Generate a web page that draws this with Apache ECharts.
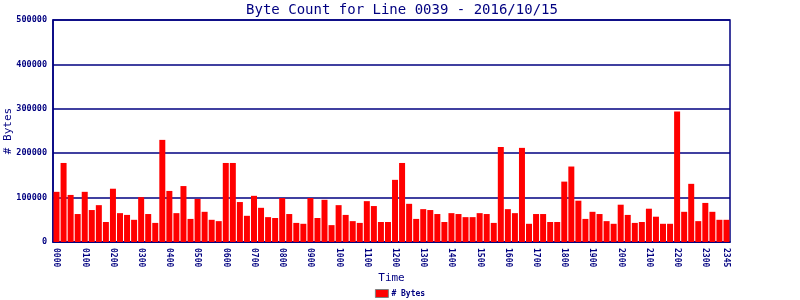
<!DOCTYPE html>
<html>
<head>
<meta charset="utf-8">
<script src="https://cdn.jsdelivr.net/npm/echarts@6/dist/echarts.min.js"></script>
<style>html,body{margin:0;padding:0;background:#fff}#c{width:800px;height:300px}</style>
</head>
<body>
<div id="c"></div>
<script>
var titleText = 'Byte Count for Line 0039 - 2016/10/15';
var seriesName = '# Bytes';
var categories = [
 '0000','0015','0030','0045','0100','0115','0130','0145',
 '0200','0215','0230','0245','0300','0315','0330','0345',
 '0400','0415','0430','0445','0500','0515','0530','0545',
 '0600','0615','0630','0645','0700','0715','0730','0745',
 '0800','0815','0830','0845','0900','0915','0930','0945',
 '1000','1015','1030','1045','1100','1115','1130','1145',
 '1200','1215','1230','1245','1300','1315','1330','1345',
 '1400','1415','1430','1445','1500','1515','1530','1545',
 '1600','1615','1630','1645','1700','1715','1730','1745',
 '1800','1815','1830','1845','1900','1915','1930','1945',
 '2000','2015','2030','2045','2100','2115','2130','2145',
 '2200','2215','2230','2245','2300','2315','2330','2345'
];
var byteCounts = [
 113000,178000,106000,63000, 113000,72000,83000,45000,
 120000,65000,61000,50000, 101000,63000,43000,230000,
 115000,65000,126000,52000, 97000,68000,50000,47000,
 178000,178000,90000,59000, 104000,77000,56000,54000,
 99000,63000,43000,41000, 99000,54000,95000,38000,
 83000,61000,47000,43000, 92000,81000,45000,45000,
 140000,178000,86000,52000, 74000,72000,63000,45000,
 65000,63000,56000,56000, 65000,63000,43000,214000,
 74000,65000,212000,41000, 63000,63000,45000,45000,
 136000,170000,93000,52000, 68000,63000,47000,41000,
 84000,61000,43000,45000, 75000,57000,41000,41000,
 294000,68000,131000,47000, 88000,68000,50000,50000
];
var yMin = 0, yMax = 500000, yStep = 100000;

var navy = '#000080';
var mono = 'DejaVu Sans Mono';
var chart = echarts.init(document.getElementById('c'), null, {renderer: 'canvas'});
chart.setOption({
  animation: false,
  backgroundColor: '#ffffff',
  title: {
    text: titleText, left: 397, top: -2, textAlign: 'center',
    textStyle: {fontFamily: mono, fontSize: 14, fontWeight: 'normal', color: navy}
  },
  legend: {
    data: [seriesName], bottom: -3, left: 'center', icon: 'rect',
    itemWidth: 13, itemHeight: 8, itemGap: 10,
    itemStyle: {borderColor: '#808080', borderWidth: 1},
    textStyle: {fontFamily: mono, fontSize: 8, fontWeight: 'bold', color: navy, padding: [0,0,0,-2]}
  },
  grid: {left: 53, right: 70, top: 20, bottom: 58, containLabel: false, outerBoundsMode: 'none',
    show: true, borderColor: navy, borderWidth: 1.5, backgroundColor: 'transparent'},
  xAxis: {
    type: 'category', data: categories,
    name: 'Time', nameLocation: 'middle', nameGap: 31, nameMoveOverlap: false,
    nameTextStyle: {fontFamily: mono, fontSize: 11, color: navy},
    axisLine: {show: true, lineStyle: {color: navy, width: 1.5}},
    axisTick: {show: false},
    axisLabel: {
      rotate: -90, margin: 6,
      interval: function (i) { return i % 4 === 0 || i === categories.length - 1; },
      fontFamily: mono, fontSize: 8, fontWeight: 'bold', color: navy
    },
    splitLine: {show: false}
  },
  yAxis: {
    type: 'value', min: yMin, max: yMax, interval: yStep,
    name: seriesName, nameLocation: 'middle', nameGap: 39, nameMoveOverlap: false,
    nameTextStyle: {fontFamily: mono, fontSize: 11, color: navy},
    axisLine: {show: true, lineStyle: {color: navy, width: 1.5}},
    axisTick: {show: false},
    axisLabel: {margin: 6, fontFamily: mono, fontSize: 8.5, fontWeight: 'bold', color: navy,
      formatter: function (v) { return String(v); }},
    splitLine: {show: true, lineStyle: {color: navy, width: 1.5}}
  },
  series: [{
    name: seriesName, type: 'bar', data: byteCounts,
    barCategoryGap: '15%',
    itemStyle: {color: '#ff0000'}
  }]
});
</script>
</body>
</html>
